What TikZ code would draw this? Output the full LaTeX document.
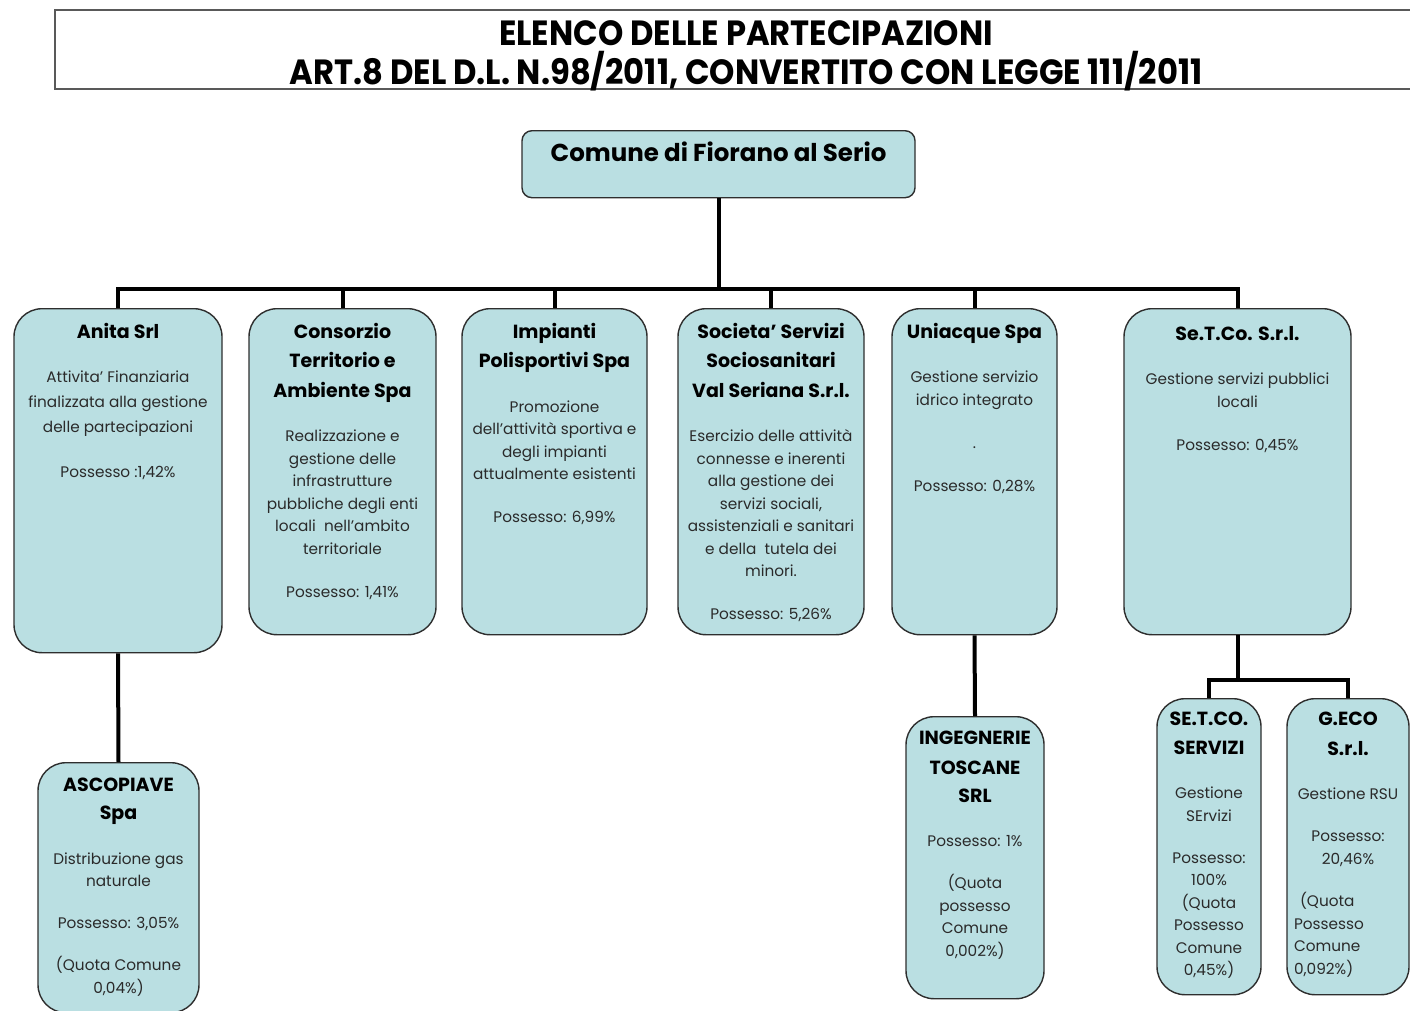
\documentclass[tikz,border=0pt]{standalone}
\usepackage{fontspec}
\setmainfont{Poppins}
\newfontfamily\titlefont[FakeStretch=0.92]{Poppins}
\usetikzlibrary{positioning}

\definecolor{azzurro}{HTML}{BADFE2}
\definecolor{bordo}{HTML}{2E2E2E}
\definecolor{testo}{HTML}{2A2A2A}

% box content: [top strut], width, height, heading, body
\newcommand{\scheda}[5][29.5]{%
  \parbox[t][#3pt][t]{#2pt}{\centering
    {\fontsize{19}{29.5}\selectfont\bfseries\rule{0pt}{#1pt}#4\par}
    \vspace{22pt}
    {\fontsize{15.3}{22.5}\selectfont\color{testo}#5\par}}}

\begin{document}
\begin{tikzpicture}[
  x=1pt, y=-1pt,
  cornice/.style={draw=black!65, line width=1.2pt},
  titolo/.style={
    align=center,
    font=\titlefont\bfseries\fontsize{35}{39}\selectfont
  },
  radice/.style={
    draw=bordo,
    fill=azzurro,
    line width=1.4pt,
    rounded corners=10pt,
    inner sep=0pt,
    anchor=north
  },
  ente/.style={
    draw=bordo,
    fill=azzurro,
    line width=1.4pt,
    rounded corners=28pt,
    inner sep=0pt,
    anchor=north
  },
  linea/.style={line width=4pt}
]
\useasboundingbox (0,0) rectangle (1410,1010);

% Title
\draw[cornice] (1410,10) -- (55,10) -- (55,89) -- (1410,89);
\node[titolo] (titolo) at (746,56) {ELENCO DELLE PARTECIPAZIONI\\ART.8 DEL D.L. N.98/2011, CONVERTITO CON LEGGE 111/2011};

% Comune
\node[radice] (comune) at (718.5,130) {\parbox[t][67pt][t]{393pt}{\centering\fontsize{24.5}{28}\selectfont\bfseries\rule{0pt}{30.5pt}Comune di Fiorano al Serio}};

% Partecipate dirette
\node[ente] (anita) at (118,308) {\scheda{208}{344}{Anita Srl}{Attivita’ Finanziaria\\[2.5pt] finalizzata alla gestione\\[2.5pt] delle partecipazioni\\[22.5pt] Possesso :1,42\%}};
\node[ente] (consorzio) at (342.5,308) {\scheda{187}{326}{Consorzio\\ Territorio e\\ Ambiente Spa}{Realizzazione e\\ gestione delle\\ infrastrutture\\ pubbliche degli enti\\ locali \ nell’ambito\\ territoriale\\[20.5pt] Possesso: 1,41\%}};
\node[ente] (impianti) at (554.5,308) {\scheda{185}{326}{Impianti\\ Polisportivi Spa}{Promozione\\ dell’attività sportiva e\\ degli impianti\\ attualmente esistenti\\[20pt] Possesso: 6,99\%}};
\node[ente] (sociosan) at (771,308) {\scheda{186}{326}{Societa’ Servizi\\ Sociosanitari\\ Val Seriana S.r.l.}{Esercizio delle attività\\ connesse e inerenti\\ alla gestione dei\\ servizi sociali,\\ assistenziali e sanitari\\ e della \ tutela dei\\ minori.\\[20.5pt] Possesso: 5,26\%}};
\node[ente] (uniacque) at (974.5,308) {\scheda{165}{326}{Uniacque Spa}{Gestione servizio\\ idrico integrato\\[20.5pt] .\\[20.5pt] Possesso: 0,28\%}};
\node[ente] (setco) at (1237.5,308) {\scheda[31.5]{227}{326}{Se.T.Co. S.r.l.}{Gestione servizi pubblici\\ locali\\[21pt] Possesso: 0,45\%}};

% Partecipate indirette
\node[ente] (ascopiave) at (118.5,762) {\scheda[28.5]{161}{250}{ASCOPIAVE\\[-1pt] Spa}{Distribuzione gas\\ naturale\\[19.5pt] Possesso: 3,05\%\\[19.5pt] (Quota Comune\\ 0,04\%)}};
\node[ente] (ingegnerie) at (975,716) {\scheda[28]{138}{282}{INGEGNERIE\\ TOSCANE\\[-1.5pt] SRL}{Possesso: 1\%\\[19.5pt] (Quota\\ possesso\\ Comune\\ 0,002\%)}};
\node[ente] (setcoserv) at (1209,698) {\scheda[27]{104}{296}{SE.T.CO.\\[-1pt] SERVIZI}{Gestione\\ SErvizi\\[19.5pt] Possesso:\\ 100\%\\ (Quota\\ Possesso\\ Comune\\ 0,45\%)}};
\node[ente] (geco) at (1348,698) {\scheda[27]{122}{296}{G.ECO\\ S.r.l.}{Gestione RSU\\[19.5pt] Possesso:\\ 20,46\%\par\vspace{20pt}\raggedright\leftskip=7pt\hspace*{6pt}(Quota\\ Possesso\\ Comune\\ 0,092\%)}};

% Lines
\coordinate (bus) at (718.5,289);
\coordinate (setcobus) at (1237.5,680);
\draw[linea] (comune.south) -- (bus);
\foreach \n in {anita,consorzio,impianti,sociosan,uniacque,setco}
  \draw[linea] (bus) -| (\n.north);
\draw[linea] (anita.south) -- (ascopiave.north);
\draw[linea] (uniacque.south) -- (ingegnerie.north);
\draw[linea] (setco.south) -- (setcobus);
\foreach \n in {setcoserv,geco}
  \draw[linea] (setcobus) -| (\n.north);

\end{tikzpicture}
\end{document}
